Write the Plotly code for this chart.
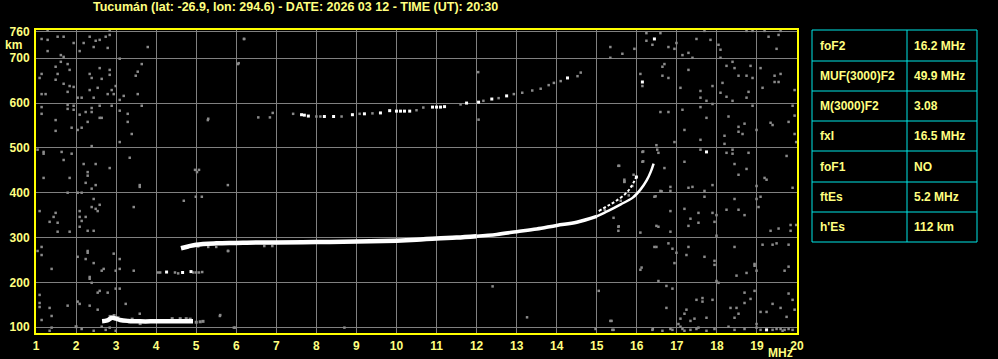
import plotly.graph_objects as go

# ---------------- DATA ----------------
title_text = "Tucumán (lat: -26.9, lon: 294.6) - DATE: 2026 03 12 - TIME (UT): 20:30"
x_ticks = list(range(1, 21))
y_ticks = [100, 200, 300, 400, 500, 600, 700, 760]

param_names = ["foF2", "MUF(3000)F2", "M(3000)F2", "fxI", "foF1", "ftEs", "h'Es"]
param_values = ["16.2 MHz", "49.9 MHz", "3.08", "16.5 MHz", "NO", "5.2 MHz", "112 km"]

# F-layer ordinary trace (MHz, km)
f_trace_freq = [4.62, 4.8, 5.0, 5.5, 6.0, 6.5, 7.0, 8.0, 9.0, 10.0, 10.5, 11.0, 11.5, 12.0]
f_trace_h = [276, 280, 284, 287, 288, 289, 289, 290, 291, 293, 295, 298, 300, 303]
f_trace2_freq = [12.0, 12.5, 13.0, 13.5, 14.0, 14.5, 15.0]
f_trace2_h = [303, 307, 313, 319, 327, 334, 347]
f_trace3_freq = [15.0, 15.3, 15.6, 15.9, 16.1, 16.25, 16.35, 16.42]
f_trace3_h = [347, 360, 374, 389, 408, 428, 447, 465]

# F-layer extraordinary branch
x_trace_freq = [15.05, 15.3, 15.47, 15.72, 15.85, 16.0]
x_trace_h = [359, 372, 381, 398, 412, 437]

# E / Es trace
e_trace_freq = [2.65, 2.78, 2.9, 3.0, 3.1, 3.3, 3.6, 4.0, 4.5, 4.92]
e_trace_h = [113, 115, 121, 119, 116, 114, 113, 113, 113, 113]
e_fringe_freq = [2.85, 2.95, 3.05, 3.4, 3.6, 4.4, 4.6, 4.75, 4.85, 5.0, 5.1, 5.17, 2.0]
e_fringe_h = [124, 126, 121, 118, 108, 119, 119, 119, 118, 111, 112, 113, 101]

# Es second hop (~220 km)
es2_gray_freq = [4.05, 4.1, 4.47, 4.55, 4.93, 5.0, 5.07, 5.15]
es2_gray_h = [222, 222, 222, 220, 222, 222, 222, 223]
es2_white_freq = [4.26, 4.66, 4.87]
es2_white_h = [223, 222, 224]

# F second hop (~570-670 km)
f2hop_white_freq = [7.63, 7.7, 7.8, 8.2, 8.43, 8.9, 9.2, 9.6, 9.83, 10.0, 10.1, 10.2, 10.33,
                    10.9, 11.0, 11.1, 11.2, 11.75, 12.05, 12.38, 12.75, 14.27]
f2hop_white_h = [574, 573, 571, 570, 570, 574, 576, 578, 583, 582, 582, 582, 582,
                 591, 591, 591, 592, 600, 602, 609, 616, 656]
f2hop_gray_freq = [6.55, 6.84, 6.91, 7.42, 8.0, 8.1, 8.63, 9.08, 9.4, 10.5, 10.67, 11.6,
                   12.17, 12.55, 12.93, 13.14, 13.39, 13.6, 13.8, 13.93, 14.1, 14.52, 14.6]
f2hop_gray_h = [568, 568, 578, 576, 570, 570, 570, 576, 577, 584, 590, 597,
                605, 611, 620, 623, 628, 632, 640, 645, 649, 660, 668]

# trace fringes (gray)
fringe_freq = [5.05, 5.3, 5.5, 5.8, 6.7, 6.9, 8.3, 15.42, 15.55, 15.56, 15.69, 15.92,
               16.16, 16.16, 16.51, 16.47, 16.62, 15.2, 15.6, 15.8]
fringe_h = [280, 279, 279, 270, 281, 281, 289, 344, 325, 460, 425, 440,
            492, 470, 496, 392, 403, 362, 382, 394]

# scattered noise echoes (gray)
noise_freq = [
    1.29, 2.84, 1.14, 1.29, 1.54, 1.69, 2.34, 2.59, 2.74, 2.84, 2.49, 2.44, 2.79, 2.09, 1.94,
    2.19, 1.29, 1.62, 1.69, 3.79, 6.19,
    1.49, 1.62, 1.79, 1.84, 1.14, 1.09, 1.54, 1.49, 1.69, 1.84, 1.94, 1.79, 1.14, 1.24, 2.34,
    2.39, 2.59, 2.64, 2.84, 2.84, 2.54, 2.34, 2.89, 2.99, 2.79, 2.94, 3.09, 3.64, 3.54, 3.49,
    3.19, 3.09, 3.54, 2.04, 2.14, 2.44, 6.04,
    1.14, 1.14, 1.79, 1.79, 1.94, 1.94, 2.09, 2.24, 2.39, 2.39, 2.59, 2.89, 2.59, 2.64, 3.09,
    3.29, 1.49, 1.49, 1.89, 2.04, 2.14, 2.29, 3.29, 3.39, 3.64, 3.09, 2.39, 5.29,
    1.04, 1.19, 1.19, 1.64, 1.69, 1.89, 2.19, 2.29, 2.29, 2.49, 2.84, 3.34, 1.19, 1.84, 2.24,
    2.39, 2.49, 3.59, 3.59, 4.97, 5.02, 5.07, 5.79,
    1.79, 2.04, 2.14, 2.44, 2.59, 2.39, 2.49, 2.54, 2.09, 1.09, 1.49, 1.44, 1.34, 1.54, 2.09,
    2.14, 2.24, 2.09, 2.29, 2.44, 1.54, 1.84, 3.44, 4.69, 4.99, 5.14,
    1.14, 1.04, 1.14, 2.29, 2.29, 2.04, 2.24, 2.44, 2.94, 3.09, 1.39, 2.64, 2.69, 2.99, 3.09,
    3.44, 2.34, 2.34, 2.39, 5.79,
    1.09, 1.09, 1.09, 1.34, 1.39, 2.59, 2.54, 2.79, 2.99, 3.09, 2.04, 2.09, 2.34, 1.79, 2.54,
    3.24, 3.59, 5.59, 1.14, 1.39, 1.34, 2.14, 2.44, 2.64, 2.74, 2.84, 2.99, 5.94,
    6.2, 6.06, 12.04, 5.3, 12.05, 12.4, 8.7, 5.6, 5.97, 13.26, 15.05, 15.37, 15.42, 14.97,
    16.4, 16.12,
    16.24, 16.59, 16.24, 16.39, 16.99, 16.79, 16.94, 15.94, 15.64, 15.34, 15.34, 17.49, 17.69,
    17.84, 18.04, 18.09, 18.74, 18.89, 19.19, 19.59, 19.29, 19.54, 19.49, 17.14, 17.29, 17.39,
    18.09,
    16.69, 16.64, 16.64, 16.79, 16.09, 16.14, 17.09, 17.29, 17.59, 17.59, 17.59, 17.89, 17.74,
    18.14, 18.09, 18.24, 18.39, 18.44, 18.24, 18.54, 18.74, 18.84, 18.89, 18.79, 18.74, 18.39,
    19.09, 19.14, 19.44, 19.44, 19.54, 19.59, 19.94, 19.89, 18.89,
    16.59, 16.79, 17.14, 17.89, 17.74, 18.29, 17.19, 16.94, 17.59, 18.19, 18.19, 18.54, 18.54,
    18.69, 18.64, 18.99, 19.34, 19.39, 19.79, 19.94, 19.94, 19.98,
    16.49, 16.54, 16.14, 16.14, 15.54, 15.69, 15.69, 15.89, 16.69, 16.84, 17.19, 17.29, 17.39,
    17.59, 17.89, 17.69, 18.24, 18.39, 18.39, 18.44, 18.54, 18.74, 18.79, 19.19, 19.24, 19.74,
    19.89, 18.99,
    16.44, 16.59, 16.84, 16.84, 17.19, 17.29, 17.34, 17.54, 17.54, 17.89, 17.99, 17.94, 17.69,
    18.24, 18.44, 18.54, 18.69, 18.99, 19.04, 19.09, 19.34, 19.54, 19.84, 19.84, 19.98, 15.54,
    15.54, 16.09, 16.49, 16.54, 16.84, 17.99,
    16.44, 16.49, 16.79, 16.89, 16.99, 17.24, 16.94, 17.29, 17.69, 17.94, 17.94, 18.94, 18.94,
    18.99, 18.44, 18.74, 18.49, 19.14, 19.39, 19.49, 19.79, 19.79, 19.69, 16.09, 16.54, 16.74,
    16.89, 17.99, 18.04,
    15.34, 16.74, 17.19, 17.24, 17.09, 17.04, 17.34, 17.44, 17.49, 17.64, 17.64, 17.89, 17.74,
    18.34, 18.49, 18.54, 18.44, 18.69, 18.69, 18.84, 18.94, 19.09, 19.24, 19.39, 19.59, 19.74,
    19.79, 19.89, 19.94, 18.99,
    15.39, 16.39, 16.64, 16.84, 16.89, 17.09, 17.14, 17.19, 17.34, 17.49, 17.54, 17.74, 17.94,
    18.29, 18.44, 18.69, 18.99, 19.09, 19.39, 19.49, 19.59, 19.64, 19.69, 19.79, 19.89,
]
noise_h = [
    762, 762, 743, 741, 748, 748, 748, 741, 748, 752, 739, 725, 723, 716, 734,
    734, 716, 707, 703, 725, 743,
    681, 692, 687, 674, 665, 656, 665, 652, 643, 638, 636, 625, 620, 620, 665,
    656, 678, 654, 674, 663, 634, 629, 629, 638, 620, 620, 699, 687, 670, 661,
    616, 607, 620, 612, 612, 612, 687,
    591, 576, 596, 587, 594, 585, 574, 580, 589, 580, 594, 594, 567, 567, 583,
    576, 562, 538, 545, 540, 545, 558, 558, 531, 594, 513, 504, 562,
    496, 491, 487, 491, 473, 487, 464, 446, 438, 464, 455, 478, 433, 433, 422,
    409, 417, 417, 413, 451, 446, 451, 417,
    400, 400, 400, 386, 373, 368, 364, 359, 359, 359, 355, 346, 335, 333, 346,
    337, 346, 324, 315, 315, 313, 313, 368, 382, 391, 391,
    279, 270, 261, 270, 266, 257, 252, 243, 264, 252, 230, 226, 230, 226, 230,
    226, 212, 208, 199, 270,
    172, 154, 145, 143, 125, 181, 177, 177, 186, 186, 157, 152, 148, 148, 139,
    152, 130, 125, 116, 99, 92, 96, 92, 101, 94, 99, 92, 99,
    743, 689, 669, 565, 563, 191, 99, 127, 99, 122, 181, 114, 94, 96,
    96, 233,
    756, 756, 739, 730, 734, 725, 721, 721, 710, 725, 701, 743, 761,
    741, 730, 719, 761, 761, 761, 761, 748, 752, 721, 707, 712, 701,
    701,
    687, 681, 661, 656, 665, 638, 634, 674, 627, 612, 591, 638, 605,
    645, 623, 614, 692, 678, 683, 661, 661, 683, 656, 625, 612, 605,
    678, 634, 661, 647, 647, 665, 629, 594, 594,
    580, 580, 585, 598, 567, 570, 540, 513, 518, 527, 509, 547, 536,
    554, 531, 540, 556, 551, 558, 572, 531, 513,
    506, 489, 491, 469, 460, 429, 424, 415, 455, 413, 469, 411, 413,
    496, 417, 404, 489, 496, 487, 464, 440, 453, 489, 433, 429, 482,
    411, 415,
    391, 404, 404, 359, 364, 326, 342, 355, 333, 355, 350, 335, 391,
    362, 386, 362, 350, 386, 368, 391, 315, 320, 328, 315, 328, 324,
    315, 311, 326, 324, 313, 304,
    279, 279, 287, 275, 266, 261, 243, 279, 257, 248, 239, 241, 237,
    226, 279, 221, 215, 284, 284, 287, 284, 235, 226, 228, 203, 192,
    186, 203, 199,
    114, 143, 130, 139, 119, 107, 114, 119, 161, 165, 157, 161, 121,
    143, 143, 130, 121, 177, 154, 163, 181, 134, 134, 152, 143, 123,
    175, 161, 139, 107,
    94, 94, 92, 96, 94, 101, 96, 92, 94, 96, 99, 92, 96,
    101, 94, 96, 99, 94, 94, 96, 96, 92, 94, 96, 94,
]
white_dots_freq = [16.44, 16.14, 17.74, 19.24, 15.99]
white_dots_h = [743, 647, 491, 94, 435]

# ---------------- STYLE / LAYOUT ----------------
YEL = "#ffff80"
FRAME = "#ffff00"
CYAN = "#00e6e6"
GRAY = "#8a8a8a"
FONT = "Liberation Sans"

L, R, T, B = 36, 201, 30, 26
W, H = 998, 359
PW, PH = W - L - R, H - T - B


def pxx(x):
    return (x - L) / PW


def pxy(y):
    return (H - B - y) / PH


fig = go.Figure()


def line_trace(xs, ys, width, color="white", dash=None):
    fig.add_trace(go.Scatter(x=xs, y=ys, mode="lines", hoverinfo="skip",
                             line=dict(color=color, width=width, dash=dash, shape="spline"),
                             showlegend=False))


def dots(xs, ys, color, size):
    fig.add_trace(go.Scatter(x=xs, y=ys, mode="markers", hoverinfo="skip",
                             marker=dict(symbol="square", size=size, color=color,
                                         line=dict(width=0)),
                             showlegend=False))


dots(noise_freq, noise_h, GRAY, 2.5)
dots(fringe_freq, fringe_h, GRAY, 2.5)
dots(e_fringe_freq, e_fringe_h, GRAY, 3)
dots(es2_gray_freq, es2_gray_h, GRAY, 2.5)
dots(f2hop_gray_freq, f2hop_gray_h, GRAY, 2.5)
line_trace(f_trace_freq, f_trace_h, 4.5)
line_trace(f_trace2_freq, f_trace2_h, 3.5)
line_trace(f_trace3_freq, f_trace3_h, 2.5)
line_trace(x_trace_freq, x_trace_h, 2, dash="3px,2px")
line_trace(e_trace_freq, e_trace_h, 4.5)
dots(es2_white_freq, es2_white_h, "white", 3)
dots(f2hop_white_freq, f2hop_white_h, "white", 3)
dots(white_dots_freq, white_dots_h, "white", 3)

tickfont = dict(family=FONT, size=12, color=YEL, weight="bold")
txtfont = dict(family=FONT, size=12, color=YEL, weight="bold")

fig.update_xaxes(range=[1, 20], tickvals=x_ticks, ticktext=[str(v) for v in x_ticks],
                 showgrid=True, gridcolor="#808080", gridwidth=1, zeroline=False,
                 showline=True, linecolor=FRAME, linewidth=2, mirror=True,
                 ticks="", tickfont=tickfont, ticklabelstandoff=1, automargin=False)
fig.update_yaxes(range=[87, 763], tickvals=y_ticks, ticktext=[str(v) for v in y_ticks],
                 showgrid=True, gridcolor="#808080", gridwidth=1, zeroline=False,
                 showline=True, linecolor=FRAME, linewidth=2, mirror=True,
                 ticks="", tickfont=tickfont, ticklabelstandoff=2, automargin=False)


def note(x, y, text, anchor="center", size=12):
    f = dict(txtfont)
    f["size"] = size
    return dict(x=pxx(x), y=pxy(y), xref="paper", yref="paper", text=text,
                showarrow=False, xanchor=anchor, yanchor="middle", font=f)


annotations = [
    note(295, 7, title_text, size=12.5),
    note(13, 45, "km"),
    note(780, 353, "MHz"),
]

shapes = []
# parameter table
tx0, tx1, tmid = 812, 977, 907
row_edges = [30, 61, 91, 121, 151, 182, 212, 242]
shapes.append(dict(type="rect", xref="paper", yref="paper", x0=pxx(tx0), x1=pxx(tx1),
                   y0=pxy(row_edges[-1]), y1=pxy(row_edges[0]),
                   line=dict(color=CYAN, width=1)))
shapes.append(dict(type="line", xref="paper", yref="paper", x0=pxx(tmid), x1=pxx(tmid),
                   y0=pxy(row_edges[-1]), y1=pxy(row_edges[0]),
                   line=dict(color=CYAN, width=1)))
for ry in row_edges[1:-1]:
    shapes.append(dict(type="line", xref="paper", yref="paper", x0=pxx(tx0), x1=pxx(tx1),
                       y0=pxy(ry), y1=pxy(ry), line=dict(color=CYAN, width=1)))
for i, (nm, val) in enumerate(zip(param_names, param_values)):
    cy = (row_edges[i] + row_edges[i + 1]) / 2
    annotations.append(note(818, cy, nm, "left"))
    annotations.append(note(912, cy, val, "left"))

fig.update_layout(width=W, height=H, margin=dict(l=L, r=R, t=T, b=B, pad=0),
                  paper_bgcolor="black", plot_bgcolor="black",
                  annotations=annotations, shapes=shapes, showlegend=False)

fig.write_html("out.html", config={"displayModeBar": False})
